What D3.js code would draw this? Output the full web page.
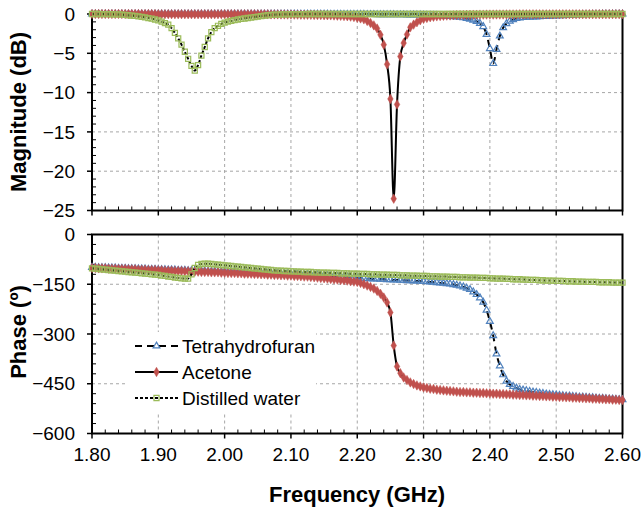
<!DOCTYPE html>
<html><head><meta charset="utf-8">
<script src="https://cdn.jsdelivr.net/npm/d3@7"></script>
<style>body{margin:0;background:#fff}svg{display:block}</style>
</head><body><svg id="c" width="641" height="508"></svg>
<script>
// sampling grid (GHz), 1.80 .. 2.60 every 0.005
const freq = d3.range(161).map(i => +(1.80 + i * 0.005).toFixed(3));

const magTHF = [
0,0,0,0,0,0,0,0,0,0,
0,0,0,0,0,0,0,0,0,0,
0,0,0,0,0,0,0,0,0,0,
0,0,0,0,0,0,0,0,0,0,
0,0,0,0,0,0,0,0,0,0,
0,0,0,0,0,0,-0.01,-0.01,-0.01,-0.01,
-0.01,-0.01,-0.02,-0.02,-0.02,-0.02,-0.02,-0.03,-0.03,-0.03,
-0.03,-0.03,-0.04,-0.04,-0.04,-0.04,-0.05,-0.05,-0.05,-0.05,
-0.06,-0.06,-0.06,-0.07,-0.07,-0.07,-0.08,-0.08,-0.08,-0.09,
-0.09,-0.09,-0.1,-0.1,-0.1,-0.11,-0.11,-0.11,-0.12,-0.12,
-0.13,-0.14,-0.15,-0.17,-0.19,-0.21,-0.24,-0.27,-0.3,-0.33,
-0.37,-0.42,-0.48,-0.56,-0.65,-0.78,-0.95,-1.2,-1.6,-2.6,
-4.4,-6.3,-4.5,-2.8,-1.75,-1.22,-0.9,-0.72,-0.58,-0.5,
-0.45,-0.42,-0.4,-0.38,-0.36,-0.34,-0.32,-0.3,-0.28,-0.26,
-0.24,-0.22,-0.2,-0.18,-0.16,-0.14,-0.12,-0.1,-0.09,-0.08,
-0.07,-0.06,-0.05,-0.04,-0.03,-0.03,-0.02,-0.02,-0.01,-0.01,
0];

const magAcetone = [
0,0,0,0,0,0,0,0,0,0,
0,0,0,0,-0.01,-0.01,-0.01,-0.01,-0.01,-0.01,
-0.02,-0.02,-0.02,-0.02,-0.02,-0.02,-0.02,-0.02,-0.02,-0.02,
-0.02,-0.02,-0.02,-0.02,-0.02,-0.02,-0.02,-0.02,-0.02,-0.02,
-0.02,-0.02,-0.02,-0.02,-0.03,-0.03,-0.03,-0.03,-0.03,-0.03,
-0.04,-0.04,-0.04,-0.04,-0.05,-0.05,-0.05,-0.06,-0.06,-0.07,
-0.07,-0.08,-0.08,-0.09,-0.1,-0.1,-0.11,-0.12,-0.13,-0.14,
-0.15,-0.16,-0.17,-0.19,-0.21,-0.23,-0.26,-0.29,-0.33,-0.38,
-0.47,-0.56,-0.68,-0.88,-1.15,-1.45,-1.85,-2.65,-3.9,-6.4,
-10.8,-23.5,-11.5,-5.4,-3.7,-2.6,-1.7,-1.35,-1.05,-0.8,
-0.62,-0.5,-0.41,-0.35,-0.3,-0.26,-0.23,-0.2,-0.18,-0.16,
-0.14,-0.13,-0.12,-0.11,-0.1,-0.09,-0.09,-0.08,-0.08,-0.07,
-0.07,-0.07,-0.06,-0.06,-0.06,-0.05,-0.05,-0.05,-0.05,-0.04,
-0.04,-0.04,-0.04,-0.04,-0.04,-0.04,-0.04,-0.04,-0.04,-0.04,
-0.03,-0.03,-0.03,-0.03,-0.03,-0.03,-0.03,-0.03,-0.03,-0.03,
-0.02,-0.02,-0.02,-0.02,-0.02,-0.02,-0.02,-0.02,-0.02,-0.02,
-0.02];

const magWater = [
0,0,0,-0.01,-0.01,-0.02,-0.03,-0.04,-0.06,-0.09,
-0.12,-0.16,-0.2,-0.25,-0.31,-0.37,-0.44,-0.52,-0.6,-0.7,
-0.82,-0.97,-1.15,-1.35,-1.8,-2.4,-3.1,-3.9,-4.8,-5.7,
-6.6,-7.2,-6.5,-5.3,-4.2,-3.1,-2.3,-1.8,-1.5,-1.25,
-1.1,-0.98,-0.88,-0.78,-0.7,-0.63,-0.57,-0.51,-0.45,-0.39,
-0.33,-0.27,-0.21,-0.16,-0.12,-0.09,-0.07,-0.05,-0.04,-0.03,
-0.02,-0.02,-0.01,-0.01,-0.01,0,0,0,0,0,
0,0,0,0,0,0,0,0,0,0,
0,0,0,0,0,0,0,0,0,0,
0,0,0,0,0,0,0,0,0,0,
0,0,0,0,0,0,0,0,0,0,
0,0,0,0,0,0,0,0,0,0,
0,0,0,0,0,0,0,0,0,0,
0,0,0,0,0,0,0,0,0,0,
0,0,0,0,0,0,0,0,0,0,
0,0,0,0,0,0,0,0,0,0,
0];

const phTHF = [
-99,-99,-100,-100,-100,-101,-101,-101,-102,-102,
-102,-103,-103,-103,-104,-104,-104,-105,-105,-105,
-106,-106,-106,-107,-107,-107,-108,-108,-108,-109,
-109,-109,-110,-110,-110,-111,-111,-111,-112,-112,
-112,-113,-113,-113,-114,-114,-114,-115,-115,-115,
-116,-116,-116,-117,-117,-117,-118,-118,-118,-119,
-119,-119,-120,-120,-121,-121,-121,-122,-122,-123,
-123,-124,-125,-125,-126,-127,-127,-128,-129,-130,
-131,-132,-132,-133,-133,-134,-134,-135,-135,-136,
-136,-137,-137,-138,-138,-139,-139,-140,-140,-141,
-141,-142,-143,-144,-145,-146,-147,-148,-149,-151,
-153,-155,-158,-162,-166,-173,-181,-191,-204,-228,
-262,-305,-360,-396,-423,-442,-452,-458,-463,-467,
-469,-471,-473,-475,-476,-478,-479,-481,-482,-483,
-484,-485,-486,-487,-487,-488,-489,-490,-490,-491,
-492,-492,-493,-494,-494,-495,-496,-496,-497,-498,
-498];

const phAcetone = [
-101,-101,-102,-102,-102,-103,-103,-103,-104,-104,
-104,-105,-105,-105,-106,-106,-106,-107,-107,-107,
-108,-108,-109,-109,-109,-110,-110,-110,-111,-111,
-112,-112,-112,-113,-113,-113,-114,-114,-114,-115,
-115,-116,-116,-116,-117,-117,-118,-118,-118,-119,
-119,-120,-120,-121,-121,-122,-122,-123,-123,-124,
-124,-125,-125,-126,-127,-127,-128,-129,-130,-131,
-132,-133,-134,-135,-136,-137,-138,-139,-141,-142,
-143,-146,-150,-154,-158,-163,-170,-179,-190,-205,
-235,-335,-398,-418,-431,-439,-446,-451,-455,-458,
-461,-463,-465,-466,-468,-469,-470,-471,-472,-473,
-474,-475,-475,-476,-476,-477,-477,-478,-478,-479,
-479,-480,-480,-481,-481,-482,-482,-483,-483,-484,
-484,-485,-485,-486,-486,-487,-487,-488,-488,-489,
-489,-490,-490,-491,-491,-492,-492,-493,-493,-494,
-494,-495,-495,-496,-496,-497,-497,-498,-498,-499,
-499];

const phWater = [
-102,-103,-104,-105,-106,-107,-108,-109,-110,-111,
-112,-113,-114,-115,-116,-117,-118,-119,-120,-121,
-122,-124,-125,-127,-128,-130,-131,-132,-133,-133,
-120,-101,-92,-89,-88,-88,-89,-90,-91,-92,
-93,-94,-95,-96,-97,-98,-99,-100,-101,-102,
-103,-104,-105,-106,-107,-108,-109,-109,-110,-110,
-111,-111,-112,-112,-113,-113,-113,-114,-114,-115,
-115,-115,-116,-116,-116,-117,-117,-117,-118,-118,
-118,-119,-119,-119,-120,-120,-120,-121,-121,-121,
-122,-122,-122,-123,-123,-123,-124,-124,-124,-125,
-125,-125,-126,-126,-126,-127,-127,-127,-128,-128,
-128,-129,-129,-129,-130,-130,-130,-131,-131,-131,
-132,-132,-133,-133,-133,-134,-134,-135,-135,-135,
-136,-136,-137,-137,-137,-138,-138,-139,-139,-139,
-140,-140,-140,-141,-141,-141,-142,-142,-142,-143,
-143,-143,-143,-144,-144,-144,-144,-145,-145,-145,
-145];

const seriesNames = ["Tetrahydrofuran", "Acetone", "Distilled water"];
const xTicks = [1.80, 1.90, 2.00, 2.10, 2.20, 2.30, 2.40, 2.50, 2.60];
const magTicks = [0, -5, -10, -15, -20, -25];
const phaseTicks = [0, -150, -300, -450, -600];

const FONT = "'Liberation Sans', Arial, Helvetica, sans-serif";
const styles = [
  {name: seriesNames[0], mag: magTHF, ph: phTHF, color: "#4F81BD", dash: "7,5", sym: d3.symbolTriangle, size: 20, filled: false},
  {name: seriesNames[1], mag: magAcetone, ph: phAcetone, color: "#C0504D", dash: null, sym: d3.symbolDiamond, size: 26, filled: true},
  {name: seriesNames[2], mag: magWater, ph: phWater, color: "#9BBB59", dash: "3,2", sym: d3.symbolSquare, size: 26, filled: false}
];

const svg = d3.select("#c").style("font-family", FONT);
const L = 92, R = 622.5;
const x = d3.scaleLinear().domain([1.8, 2.6]).range([L, R]);
const yMag = d3.scaleLinear().domain([-25, 0]).range([210.5, 14]);
const yPh = d3.scaleLinear().domain([-600, 0]).range([433.5, 234.5]);

function panel(y, ticks, minorStep, key, showX) {
  const g = svg.append("g");
  const [y0, y1] = y.range();
  const d0 = y.domain()[0], d1 = y.domain()[1];
  g.selectAll(".gx").data(xTicks.slice(1, -1)).join("line")
    .attr("x1", d => x(d)).attr("x2", d => x(d)).attr("y1", y1).attr("y2", y0)
    .attr("stroke", "#A6A6A6").attr("stroke-width", 1).attr("stroke-dasharray", "3,3");
  g.selectAll(".gy").data(ticks.filter(t => t !== d0 && t !== d1)).join("line")
    .attr("x1", L).attr("x2", R).attr("y1", d => y(d)).attr("y2", d => y(d))
    .attr("stroke", "#A6A6A6").attr("stroke-width", 1).attr("stroke-dasharray", "3,3");
  const minorY = d3.range(d0, d1 + 1e-9, minorStep).filter(v => !ticks.includes(v));
  g.selectAll(".my").data(minorY).join("line")
    .attr("x1", L).attr("x2", L + 4).attr("y1", d => y(d)).attr("y2", d => y(d))
    .attr("stroke", "#000").attr("stroke-width", 1);
  const minorX = d3.range(0, 41).map(i => 1.8 + i * 0.02).filter(v => Math.abs(((v - 1.8) / 0.1) - Math.round((v - 1.8) / 0.1)) > 1e-6);
  g.selectAll(".mx").data(minorX).join("line")
    .attr("x1", d => x(d)).attr("x2", d => x(d)).attr("y1", y0).attr("y2", y0 - 4)
    .attr("stroke", "#000").attr("stroke-width", 1);
  g.selectAll(".ty").data(ticks).join("line")
    .attr("x1", L - 5).attr("x2", L).attr("y1", d => y(d)).attr("y2", d => y(d))
    .attr("stroke", "#000").attr("stroke-width", 1.5);
  g.selectAll(".tx").data(xTicks).join("line")
    .attr("x1", d => x(d)).attr("x2", d => x(d)).attr("y1", y0).attr("y2", y0 + 5)
    .attr("stroke", "#000").attr("stroke-width", 1.5);
  const fmt = d3.format("d");
  g.selectAll(".ly").data(ticks).join("text")
    .attr("x", 75).attr("y", d => y(d)).attr("dy", "0.35em")
    .attr("text-anchor", "end").attr("font-size", 19).attr("fill", "#000")
    .text(d => fmt(d));
  if (showX) {
    g.selectAll(".lx").data(xTicks).join("text")
      .attr("x", d => x(d)).attr("y", 461)
      .attr("text-anchor", "middle").attr("font-size", 19).attr("fill", "#000")
      .text(d => d3.format(".2f")(d));
  }
  g.append("rect").attr("x", L).attr("y", y1).attr("width", R - L).attr("height", y0 - y1)
    .attr("fill", "none").attr("stroke", "#000").attr("stroke-width", 2);
  styles.forEach(s => {
    const pts = freq.map((f, i) => [f, s[key][i]]);
    g.append("path").datum(pts)
      .attr("d", d3.line().x(d => x(d[0])).y(d => y(d[1])).curve(d3.curveMonotoneX))
      .attr("fill", "none").attr("stroke", "#000").attr("stroke-width", 2)
      .attr("stroke-dasharray", s.dash);
    g.selectAll(null).data(pts).join("path")
      .attr("transform", d => `translate(${x(d[0])},${y(d[1])})`)
      .attr("d", d3.symbol(s.sym, s.size))
      .attr("fill", s.filled ? s.color : "none")
      .attr("stroke", s.color).attr("stroke-width", s.filled ? 0.5 : 1.2);
  });
}

panel(yMag, magTicks, 1, "mag", false);
panel(yPh, phaseTicks, 30, "ph", true);

svg.append("text").attr("transform", "translate(26,112) rotate(-90)")
  .attr("text-anchor", "middle").attr("font-size", 22).attr("font-weight", "bold").text("Magnitude (dB)");
svg.append("text").attr("transform", "translate(26,332) rotate(-90)")
  .attr("text-anchor", "middle").attr("font-size", 22).attr("font-weight", "bold").text("Phase (º)");
svg.append("text").attr("x", 357).attr("y", 502)
  .attr("text-anchor", "middle").attr("font-size", 22).attr("font-weight", "bold").text("Frequency (GHz)");

const lg = svg.append("g");
lg.append("rect").attr("x", 128).attr("y", 332).attr("width", 188).attr("height", 80).attr("fill", "#fff");
styles.forEach((s, i) => {
  const yy = 346 + i * 26;
  lg.append("line").attr("x1", 135).attr("x2", 178).attr("y1", yy).attr("y2", yy)
    .attr("stroke", "#000").attr("stroke-width", 2).attr("stroke-dasharray", s.dash);
  lg.append("path").attr("transform", `translate(156.5,${yy})`)
    .attr("d", d3.symbol(s.sym, s.size))
    .attr("fill", s.filled ? s.color : "none").attr("stroke", s.color).attr("stroke-width", s.filled ? 0.5 : 1.2);
  lg.append("text").attr("x", 182).attr("y", yy).attr("dy", "0.35em")
    .attr("font-size", 19).attr("fill", "#000").text(s.name);
});
</script></body></html>
